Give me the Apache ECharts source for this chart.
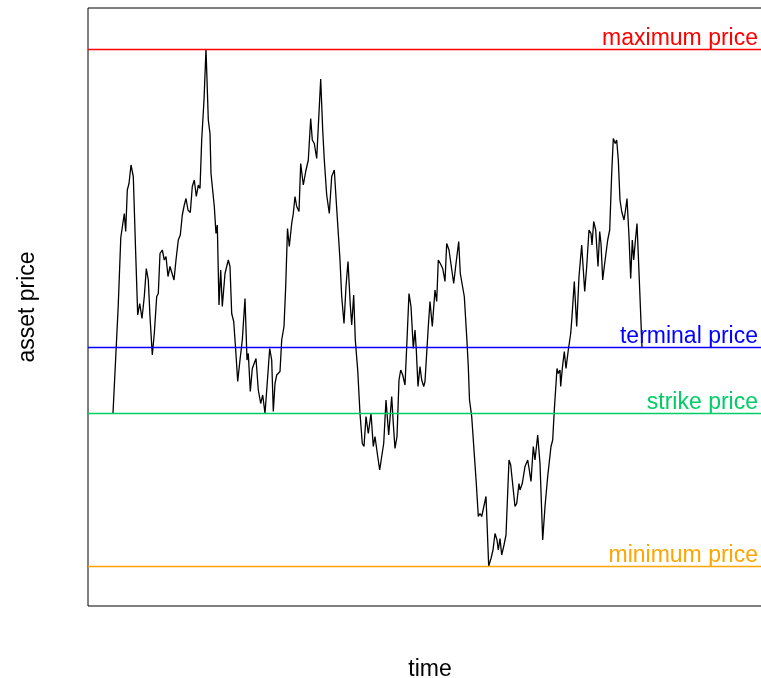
<!DOCTYPE html>
<html>
<head>
<meta charset="utf-8">
<script src="https://cdn.jsdelivr.net/npm/echarts@6/dist/echarts.min.js"></script>
<style>
  html, body { margin: 0; padding: 0; background: #fff; }
  #chart { width: 761px; height: 678px; }
</style>
</head>
<body>
<div id="chart"></div>
<script>
// Simulated asset price path (time in trading days, price in currency units)
const times = [
  0, 2.6, 3.9, 4.8, 5.65, 6.35, 7.15, 8, 9, 10.15,
  11.35, 12.35, 13.35, 14.5, 15.65, 16.65, 17.65, 18.5, 19.65, 20.65,
  21.85, 22.65, 23.5, 24.65, 25.65, 26.5, 27.5, 28.5, 29.5, 30.5,
  31.5, 32.65, 33.65, 34.65, 35.65, 36.5, 37.5, 38.65, 39.65, 40.65,
  41.65, 42.65, 43.5, 44.35, 45.5, 46.5, 47.65, 48.5, 49, 49.65,
  50.65, 51.5, 52.15, 53, 53.85, 54.65, 56, 56.85, 57.65, 58.5,
  59.35, 60.35, 61.35, 62.35, 63.5, 64.65, 66, 67, 67.65, 68.65,
  69.65, 70.5, 71.5, 72.65, 73.85, 74.85, 76, 77.35, 78.35, 79.35,
  80.15, 81, 81.85, 82.65, 83.5, 84.35, 85.5, 86.35, 87.25, 88.15,
  89.35, 90.15, 91, 91.85, 93, 93.85, 95.15, 96.35, 97.65, 98.85,
  99.65, 100.65, 101.85, 102.65, 103.85, 104.85, 105.65, 106.85, 108.15, 109.35,
  110.65, 111.85, 112.65, 113.5, 114.35, 115.5, 116.5, 117.5, 118.65, 119.35,
  120.35, 121.15, 122.35, 123.5, 124.65, 125.5, 126.5, 127.65, 129, 130.15,
  131, 132.25, 133.35, 134.35, 135.35, 136.5, 137.85, 139.35, 140.15, 141,
  142, 143, 143.85, 144.85, 146, 147, 148, 149, 150.15, 151,
  151.65, 152.5, 153.5, 154.35, 155.35, 156, 156.85, 157.65, 158.5, 159.65,
  161, 161.85, 162.65, 163.65, 164.85, 166, 166.85, 168, 169, 170.35,
  171.5, 172.35, 172.85, 173.65, 174.65, 175.65, 176.85, 177.65, 178.25, 179.35,
  180.5, 181.65, 182.65, 183.5, 184.35, 185.35, 186.5, 187.85, 189, 190,
  191, 192, 192.65, 193.5, 194.35, 195.5, 196.5, 198, 198.85, 199.85,
  201, 201.85, 203, 203.5, 204.65, 206, 207.35, 208.15, 209, 210.15,
  211, 212.35, 213.5, 214.85, 216, 217.35, 218, 219, 219.85, 220.65,
  222, 222.65, 223.5, 223.85, 224.65, 225.65, 226.5, 227.65, 228.85, 229.5,
  230.65, 231.85, 233, 234.35, 235.85, 236.85, 238, 239, 239.5, 240.35,
  241.35, 242.5, 243.35, 244, 244.85, 245.65, 246.5, 247.35, 248.35, 249.35,
  250.15, 251.15, 251.85, 252.65, 253.5, 254.35, 255.5, 256.15, 257, 258,
  258.85, 259.65, 260.35, 261.15, 262, 262.65, 263.5, 264.5
];

const prices = [
  100, 121.3, 135.1, 134.7, 139.9, 136.3, 144.6, 145.9, 149.6, 147.3,
  131.9, 119.6, 121.9, 118.9, 123.3, 128.9, 126.6, 119.3, 111.6, 115.9,
  123.3, 123.9, 131.9, 132.6, 130.6, 131.3, 127.3, 129.3, 129.6, 126.6,
  130.6, 134.6, 135.6, 139.6, 141.6, 142.9, 140.6, 140.1, 145.3, 146.6,
  143.3, 145.6, 144.9, 154.6, 162.6, 172.8, 158.6, 155.9, 147.9, 147.6,
  141.3, 135.9, 137.6, 121.6, 128.6, 121.3, 127.9, 127.6, 130.6, 129.3,
  119.9, 118.3, 112.6, 106.3, 110.6, 114.6, 122.9, 110.6, 111.9, 104.3,
  108.9, 108.6, 110.9, 104.6, 101.9, 103.6, 99.9, 107.3, 112.9, 110.6,
  100.3, 105.9, 107.6, 107.3, 108.3, 114.6, 117.3, 125.3, 136.9, 133.3,
  137.9, 139.9, 143.3, 141.3, 140.3, 149.9, 145.6, 148.3, 150.6, 158.9,
  154.6, 153.9, 150.9, 157.3, 166.8, 156.6, 150.6, 143.6, 139.9, 147.3,
  148.6, 140.9, 140.7, 130.6, 123.3, 117.9, 125.3, 130.3, 121.6, 117.6,
  123.6, 114.6, 108.6, 99.9, 93.9, 93.3, 99.3, 95.9, 99.9, 93.3,
  95.3, 91.6, 88.6, 91.3, 93.9, 102.6, 95.6, 103.3, 97.9, 92.9,
  95.3, 106.6, 108.6, 107.6, 105.6, 114.6, 123.9, 121.3, 112.9, 116.6,
  112.6, 105.3, 109.3, 106.6, 105.3, 106.3, 105.9, 117.3, 122.3, 117.3,
  124.6, 122.3, 130.6, 129.9, 128.9, 126.3, 133.9, 132.6, 132.3, 125.9,
  129.9, 129.6, 134.3, 127.9, 128.3, 123.3, 115.3, 109.3, 102.6, 99.3,
  92.6, 85.9, 79.3, 79.9, 79.3, 78.9, 83.3, 69.4, 70.9, 72.6,
  75.9, 74.6, 72.6, 74.9, 71.6, 73.6, 75.6, 90.6, 89.6, 89.9,
  81.3, 81.9, 85.9, 84.6, 85.9, 89.3, 90.6, 88.6, 86.3, 93.3,
  90.6, 95.6, 89.9, 74.6, 81.3, 87.3, 86.9, 93.3, 94.6, 100.6,
  108.9, 107.9, 108.6, 105.3, 108.9, 112.3, 108.9, 112.6, 115.9, 119.3,
  126.3, 117.3, 127.3, 133.6, 124.3, 129.3, 136.6, 135.9, 133.6, 138.3,
  136.6, 129.3, 136.3, 133.9, 126.6, 129.3, 129.5, 134.6, 136.6, 147.9,
  154.9, 153.9, 154.6, 150.6, 142.6, 140.3, 138.6, 140.3, 142.9, 135.3,
  126.9, 134.6, 130.6, 134.3, 137.9, 131.6, 131.6, 113.2
];

const strikePrice = 100;
const maxPrice = Math.max(...prices);
const minPrice = Math.min(...prices);
const terminalPrice = prices[prices.length - 1];

const refLines = [
  { name: 'maximum price', value: maxPrice, color: '#FF0000' },
  { name: 'terminal price', value: terminalPrice, color: '#0000FF' },
  { name: 'strike price', value: strikePrice, color: '#00CD66' },
  { name: 'minimum price', value: minPrice, color: '#FFA500' }
];

const path = times.map((t, i) => [t, prices[i]]);
const FONT = 'Liberation Sans, Arial, Helvetica, sans-serif';

const chart = echarts.init(document.getElementById('chart'), null, { renderer: 'canvas' });

chart.setOption({
  animation: false,
  backgroundColor: '#fff',
  grid: {
    left: 88, right: -11, top: 8, bottom: 72,
    outerBoundsMode: 'none',
    containLabel: false,
    show: true, borderColor: '#000', borderWidth: 1, backgroundColor: 'transparent'
  },
  xAxis: {
    type: 'value',
    min: -12.5, max: 329.5,
    name: 'time',
    nameLocation: 'middle',
    nameGap: 52,
    nameTextStyle: { fontFamily: FONT, fontSize: 23, color: '#000' },
    axisLine: { show: false }, axisTick: { show: false },
    axisLabel: { show: false }, splitLine: { show: false }
  },
  yAxis: {
    type: 'value',
    min: 61.4, max: 181,
    name: 'asset price',
    nameLocation: 'middle',
    nameGap: 49,
    nameTextStyle: { fontFamily: FONT, fontSize: 23, color: '#000' },
    axisLine: { show: false }, axisTick: { show: false },
    axisLabel: { show: false }, splitLine: { show: false }
  },
  series: [{
    type: 'line',
    data: path,
    symbol: 'none',
    lineStyle: { color: '#000', width: 1.3 },
    z: 3,
    markLine: {
      silent: true,
      symbol: 'none',
      animation: false,
      data: refLines.map(r => ({
        yAxis: r.value,
        lineStyle: { color: r.color, width: 1.3, type: 'solid' },
        label: {
          show: true,
          formatter: r.name,
          position: 'insideEndTop',
          distance: [14, -1.5],
          color: r.color,
          fontFamily: FONT,
          fontSize: 23
        }
      }))
    }
  }]
});
</script>
</body>
</html>
